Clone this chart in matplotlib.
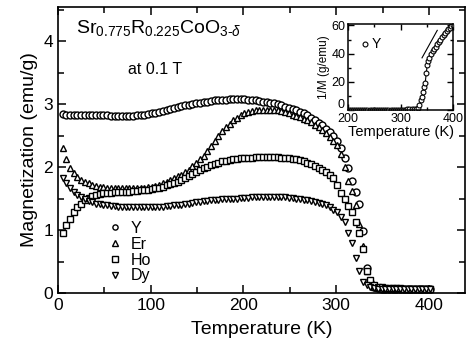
import numpy as np
import matplotlib
matplotlib.use('Agg')
import matplotlib.pyplot as plt
from matplotlib.ticker import MultipleLocator

plt.rcParams['font.family'] = ['Liberation Sans', 'DejaVu Sans']
plt.rcParams['mathtext.fontset'] = 'custom'
plt.rcParams['mathtext.rm'] = 'Liberation Sans'
plt.rcParams['mathtext.it'] = 'Liberation Sans:italic'

# measurement temperatures (K)
temp = [5, 9, 13, 17, 21, 25, 29, 33, 37, 41, 45, 49, 53, 57, 61, 65, 69, 73, 77, 81, 85, 89, 93, 97,
        101, 105, 109, 113, 117, 121, 125, 129, 133, 137, 141, 145, 149, 153, 157, 161, 165, 169, 173, 177, 181, 185, 189, 193, 197,
        201, 205, 209, 213, 217, 221, 225, 229, 233, 237, 241, 245, 249, 253, 257, 261, 265, 269, 273, 277, 281, 285, 289, 293, 297,
        301, 305, 309, 313, 317, 321, 325, 329, 333, 337, 341, 345, 349, 353, 357, 361, 365, 369, 373, 377, 381, 385, 389, 393, 397,
        401]

m_y = [2.84, 2.83, 2.83, 2.83, 2.83, 2.83, 2.82, 2.82, 2.82, 2.82, 2.82, 2.82, 2.82, 2.81, 2.81, 2.81, 2.81, 2.81, 2.81, 2.81, 2.82, 2.82, 2.83, 2.84,
       2.85, 2.86, 2.88, 2.89, 2.91, 2.92, 2.94, 2.95, 2.97, 2.98, 2.99, 3.00, 3.01, 3.02, 3.03, 3.04, 3.05, 3.06, 3.06, 3.07, 3.07, 3.08, 3.08, 3.08, 3.08,
       3.08, 3.07, 3.07, 3.06, 3.05, 3.04, 3.03, 3.02, 3.01, 3.00, 2.98, 2.96, 2.94, 2.92, 2.90, 2.88, 2.85, 2.82, 2.78, 2.74, 2.70, 2.66, 2.60, 2.55, 2.49,
       2.42, 2.30, 2.15, 1.98, 1.78, 1.60, 1.42, 0.98, 0.40, 0.17, 0.10, 0.08, 0.07, 0.07, 0.06, 0.06, 0.06, 0.06, 0.06, 0.06, 0.06, 0.06, 0.06, 0.06, 0.06,
       0.06]

m_er = [2.30, 2.12, 1.98, 1.90, 1.84, 1.79, 1.76, 1.74, 1.72, 1.70, 1.69, 1.68, 1.67, 1.67, 1.66, 1.66, 1.66, 1.66, 1.66, 1.66, 1.66, 1.67, 1.67, 1.68,
        1.69, 1.70, 1.72, 1.74, 1.76, 1.79, 1.82, 1.85, 1.88, 1.92, 1.96, 2.01, 2.06, 2.12, 2.18, 2.25, 2.33, 2.41, 2.49, 2.57, 2.63, 2.69, 2.74, 2.78, 2.82,
        2.85, 2.87, 2.89, 2.90, 2.91, 2.91, 2.91, 2.91, 2.90, 2.90, 2.89, 2.87, 2.85, 2.83, 2.81, 2.80, 2.77, 2.74, 2.71, 2.67, 2.63, 2.59, 2.54, 2.48, 2.42,
        2.35, 2.20, 2.00, 1.78, 1.62, 1.40, 1.10, 0.75, 0.35, 0.16, 0.10, 0.08, 0.07, 0.07, 0.06, 0.06, 0.06, 0.06, 0.06, 0.06, 0.06, 0.06, 0.06, 0.06, 0.06,
        0.06]

m_ho = [0.95, 1.08, 1.18, 1.28, 1.36, 1.42, 1.47, 1.51, 1.54, 1.56, 1.57, 1.58, 1.59, 1.59, 1.60, 1.60, 1.61, 1.61, 1.61, 1.62, 1.62, 1.63, 1.63, 1.64,
        1.65, 1.66, 1.67, 1.69, 1.71, 1.73, 1.75, 1.77, 1.80, 1.83, 1.86, 1.89, 1.92, 1.95, 1.98, 2.00, 2.03, 2.05, 2.07, 2.09, 2.10, 2.11, 2.12, 2.13, 2.14,
        2.14, 2.15, 2.15, 2.16, 2.16, 2.16, 2.16, 2.16, 2.16, 2.16, 2.15, 2.15, 2.14, 2.13, 2.12, 2.11, 2.09, 2.07, 2.05, 2.02, 1.99, 1.96, 1.92, 1.88, 1.83,
        1.72, 1.58, 1.50, 1.38, 1.28, 1.12, 0.95, 0.70, 0.35, 0.20, 0.13, 0.10, 0.09, 0.08, 0.08, 0.08, 0.08, 0.08, 0.07, 0.07, 0.07, 0.07, 0.07, 0.07, 0.07,
        0.07]

m_dy = [1.82, 1.74, 1.67, 1.61, 1.56, 1.52, 1.49, 1.46, 1.44, 1.42, 1.41, 1.40, 1.39, 1.38, 1.38, 1.37, 1.37, 1.37, 1.36, 1.36, 1.36, 1.36, 1.36, 1.36,
        1.36, 1.36, 1.37, 1.37, 1.38, 1.38, 1.39, 1.40, 1.40, 1.41, 1.42, 1.43, 1.44, 1.45, 1.46, 1.46, 1.47, 1.48, 1.48, 1.49, 1.49, 1.50, 1.50, 1.50, 1.51,
        1.51, 1.51, 1.52, 1.52, 1.52, 1.52, 1.52, 1.52, 1.52, 1.52, 1.52, 1.52, 1.51, 1.51, 1.50, 1.49, 1.48, 1.47, 1.46, 1.45, 1.43, 1.41, 1.39, 1.36, 1.32,
        1.28, 1.20, 1.13, 0.95, 0.80, 0.55, 0.35, 0.18, 0.12, 0.10, 0.08, 0.07, 0.06, 0.06, 0.06, 0.06, 0.06, 0.06, 0.06, 0.06, 0.06, 0.06, 0.06, 0.06, 0.06,
        0.06]

# inset: 1/M of the Y sample
inv_t = [201, 205, 209, 213, 217, 221, 225, 229, 233, 237, 241, 245, 249, 253, 257, 261, 265, 269, 273, 277, 281, 285, 289, 293, 297,
         301, 305, 309, 313, 317, 321, 325, 329, 333, 336, 339, 341, 343, 345, 347, 349, 351, 353, 355, 358, 361, 364, 367, 370,
         373, 376, 379, 382, 385, 388, 391, 394, 397, 400]
inv_m = [0.3, 0.3, 0.3, 0.3, 0.3, 0.3, 0.3, 0.3, 0.3, 0.3, 0.3, 0.3, 0.3, 0.3, 0.3, 0.3, 0.3, 0.3, 0.3, 0.3, 0.3, 0.3, 0.3, 0.3, 0.3,
         0.3, 0.3, 0.3, 0.4, 0.4, 0.5, 0.6, 0.9, 1.5, 3.5, 7.0, 9.0, 12.7, 16.0, 19.0, 26.0, 32.0, 35.0, 37.0, 40.0, 42.0, 43.5, 45.0, 47.0,
         48.5, 50.0, 52.0, 53.0, 54.5, 56.0, 57.5, 58.5, 59.5, 60.0]
fit_t = [341, 370]
fit_m = [37.0, 56.5]
inv_ticks = [0, 20, 40, 60]

names = ['Y', 'Er', 'Ho', 'Dy']
markers = ['o', '^', 's', 'v']

fig = plt.figure(figsize=(4.66, 3.47), dpi=100)
ax = fig.add_axes([0.1245, 0.1556, 0.8735, 0.8242])

for m, mk, nm in zip([m_y, m_er, m_ho, m_dy], markers, names):
    ax.plot(temp, m, linestyle='none', marker=mk, ms=5, mfc='white', mec='black', mew=1.0, label=nm)

ax.set_xlim(0, 439)
ax.set_ylim(0, 4.54)
ax.xaxis.set_major_locator(MultipleLocator(100))
ax.xaxis.set_minor_locator(MultipleLocator(50))
ax.yaxis.set_major_locator(MultipleLocator(1))
ax.yaxis.set_minor_locator(MultipleLocator(0.5))
ax.tick_params(which='both', direction='in', top=True, right=True, width=1.1, labelsize=12.5)
ax.tick_params(which='major', length=6)
ax.tick_params(which='minor', length=4)
for s in ax.spines.values():
    s.set_linewidth(1.2)
ax.set_xlabel('Temperature (K)', fontsize=14, labelpad=6)
ax.set_ylabel('Magnetization (emu/g)', fontsize=14, labelpad=4)

ax.text(0.045, 0.925, r'Sr$_{0.775}$R$_{0.225}$CoO$_{3\text{-}\delta}$', transform=ax.transAxes,
        fontsize=14, va='center', ha='left')
ax.text(0.172, 0.78, 'at 0.1 T', transform=ax.transAxes, fontsize=11.5, va='center', ha='left')

ax.legend(loc='lower left', bbox_to_anchor=(0.1, 0.0), frameon=False, fontsize=11.5,
          handlelength=0.8, handletextpad=0.6, labelspacing=0.05, borderaxespad=0.2, markerscale=0.75)

# inset
ins = fig.add_axes([0.7468, 0.683, 0.2253, 0.2478])
ins.plot(inv_t, inv_m, '-o', color='black', lw=0.8, ms=3.5, mfc='white', mec='black', mew=0.8)
ins.plot(fit_t, fit_m, '-', color='black', lw=0.8)
ins.set_xlim(200, 400)
ins.set_ylim(0, 61)
ins.xaxis.set_major_locator(MultipleLocator(100))
ins.xaxis.set_minor_locator(MultipleLocator(50))
ins.set_yticks(inv_ticks, [''] + [str(v) for v in inv_ticks[1:]])
ins.yaxis.set_minor_locator(MultipleLocator(10))
ins.tick_params(which='both', direction='in', top=True, right=True, width=1.0, labelsize=9)
ins.tick_params(axis='x', pad=2.5)
ins.tick_params(axis='y', pad=2)
ins.tick_params(which='major', length=4)
ins.tick_params(which='minor', length=2.5)
for s in ins.spines.values():
    s.set_linewidth(1.1)
# the "0" of the inset y axis sits a touch higher so it clears the "200"
ins.text(-0.03, -0.01, str(inv_ticks[0]), transform=ins.transAxes, fontsize=9, ha='right', va='bottom')
ins.set_xlabel('Temperature (K)', fontsize=10.5, labelpad=0)
ins.set_ylabel('1/M (g/emu)', fontsize=8.5, labelpad=1)
ins.plot([232], [47], 'o', ms=3.5, mfc='white', mec='black', mew=0.8)
ins.text(246, 47, 'Y', fontsize=10, va='center', ha='left')

fig.savefig('out.png', dpi=100)
